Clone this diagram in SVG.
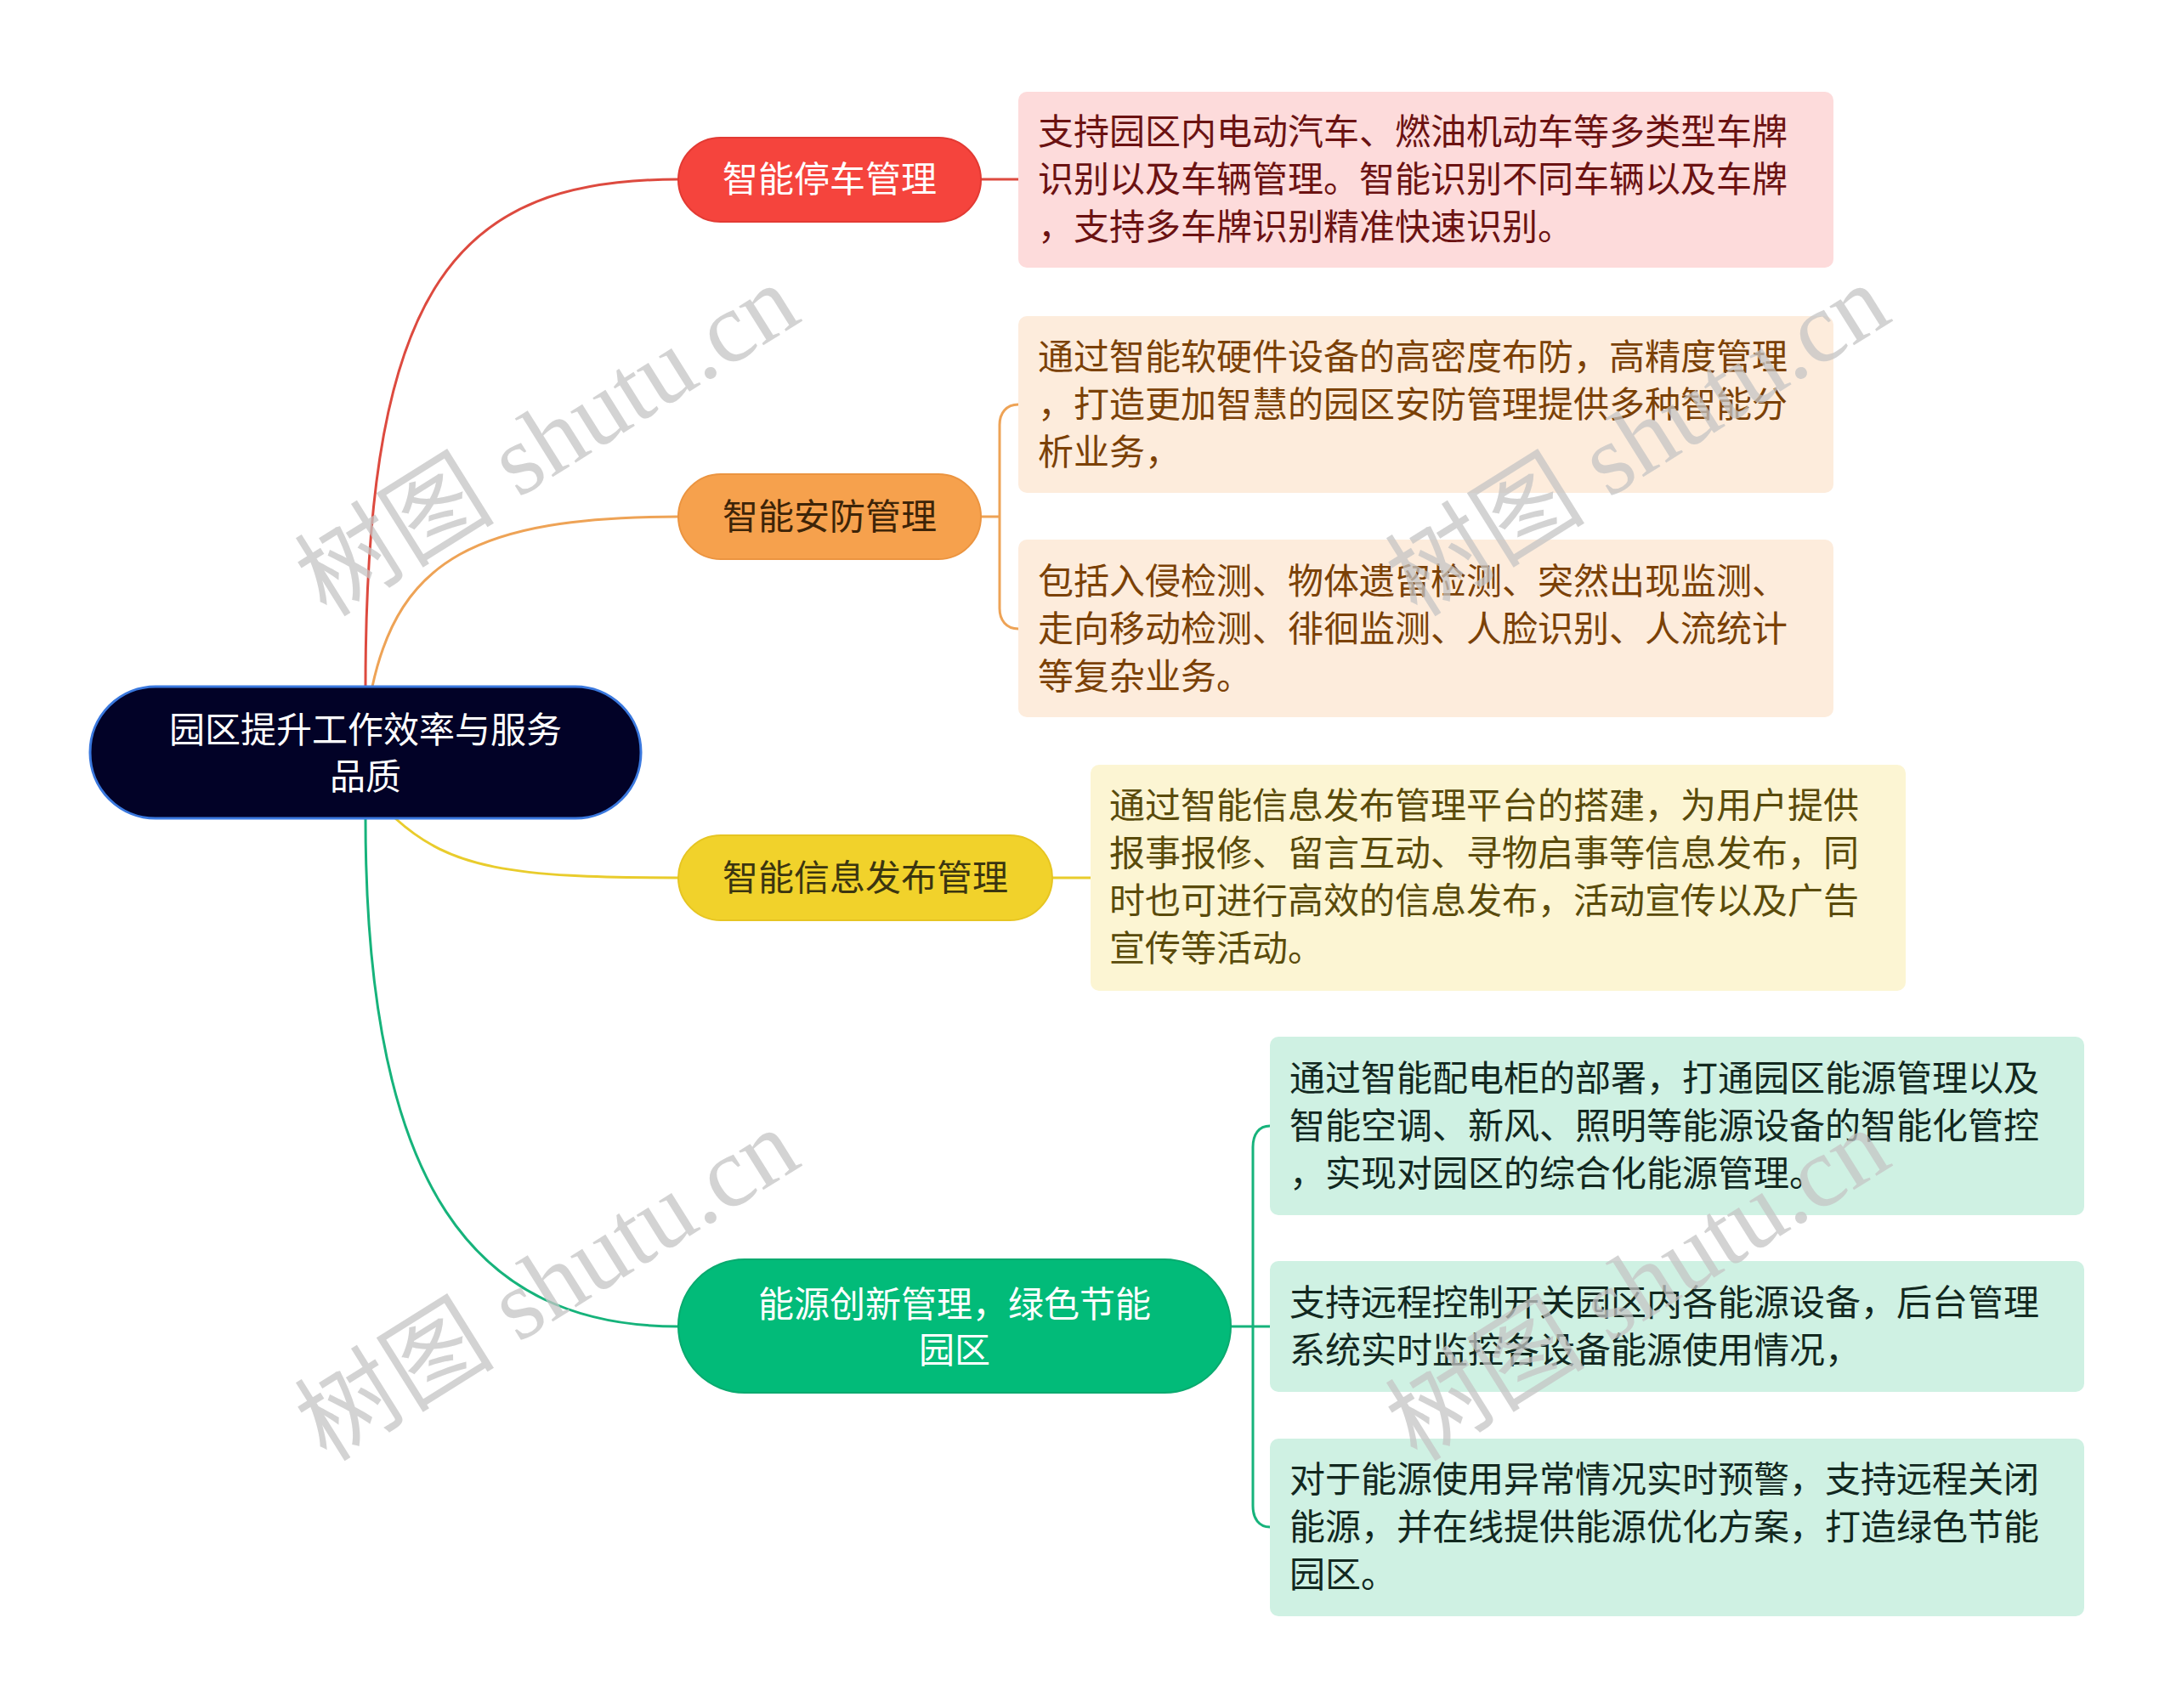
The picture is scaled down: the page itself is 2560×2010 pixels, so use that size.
<svg xmlns="http://www.w3.org/2000/svg" width="2560" height="2010" viewBox="0 0 2560 2010">
<style>
text{font-family:"Noto Sans CJK SC","Noto Sans",sans-serif;font-size:42px}
.c{text-anchor:middle}
.w{fill:#ffffff}
.con{fill:none;stroke-width:3;stroke-linecap:round}
.wm{font-family:"Liberation Serif","Noto Sans CJK SC",serif;font-size:118px;fill:#c4c4c4;fill-opacity:0.75;text-anchor:middle}
</style>
<rect width="2560" height="2010" fill="#ffffff"/>
<g id="connectors">
<path class="con" stroke="#dd4a3f" d="M430,808 C430,330 540,211 798,211"/>
<path class="con" stroke="#eea356" d="M438,808 C470,660 560,608 798,608"/>
<path class="con" stroke="#e9cc2c" d="M465,963 C530,1022 600,1033 798,1033"/>
<path class="con" stroke="#16b37b" d="M430,963 C430,1400 560,1561 798,1561"/>
<path class="con" stroke="#dd4a3f" d="M1154,211 H1198"/>
<path class="con" stroke="#eea356" d="M1154,608 H1176 M1198,476 C1184,476 1176,486 1176,500 V716 C1176,730 1184,740 1198,740"/>
<path class="con" stroke="#e9cc2c" d="M1238,1033 H1283"/>
<path class="con" stroke="#16b37b" d="M1448,1561 H1494 M1494,1325 C1481,1325 1474,1335 1474,1350 V1772 C1474,1787 1481,1797 1494,1797"/>
</g>
<g id="root">
<rect x="106" y="808" width="648" height="155" rx="77" fill="#020227" stroke="#3a78de" stroke-width="3"/>
<text class="c w" x="430" y="874">园区提升工作效率与服务</text>
<text class="c w" x="430" y="929">品质</text>
</g>
<g id="n1">
<rect x="798" y="162" width="356" height="99" rx="49.5" fill="#f5443d" stroke="#e23a33" stroke-width="2"/>
<text class="c w" x="976" y="226">智能停车管理</text>
</g>
<g id="n2">
<rect x="798" y="558" width="356" height="100" rx="50" fill="#f6a14d" stroke="#eb9440" stroke-width="2"/>
<text class="c" x="976" y="623" fill="#3d2408">智能安防管理</text>
</g>
<g id="n3">
<rect x="798" y="983" width="440" height="100" rx="50" fill="#f1d22b" stroke="#e6c522" stroke-width="2"/>
<text class="c" x="1018" y="1048" fill="#3b3510">智能信息发布管理</text>
</g>
<g id="n4">
<rect x="798" y="1482" width="650" height="157" rx="78" fill="#02bb79" stroke="#0aaa6f" stroke-width="2"/>
<text class="c w" x="1123" y="1550">能源创新管理，绿色节能</text>
<text class="c w" x="1123" y="1604">园区</text>
</g>
<g id="l1">
<rect x="1198" y="108" width="959" height="207" rx="10" fill="#fddbdb"/>
<g fill="#6b1212">
<text x="1221" y="170">支持园区内电动汽车、燃油机动车等多类型车牌</text>
<text x="1221" y="226">识别以及车辆管理。智能识别不同车辆以及车牌</text>
<text x="1221" y="282">，支持多车牌识别精准快速识别。</text>
</g>
</g>
<g id="l2a">
<rect x="1198" y="372" width="959" height="208" rx="10" fill="#fdecdc"/>
<g fill="#7b4106">
<text x="1221" y="435">通过智能软硬件设备的高密度布防，高精度管理</text>
<text x="1221" y="491">，打造更加智慧的园区安防管理提供多种智能分</text>
<text x="1221" y="547">析业务，</text>
</g>
</g>
<g id="l2b">
<rect x="1198" y="635" width="959" height="209" rx="10" fill="#fdecdc"/>
<g fill="#7b4106">
<text x="1221" y="699">包括入侵检测、物体遗留检测、突然出现监测、</text>
<text x="1221" y="755">走向移动检测、徘徊监测、人脸识别、人流统计</text>
<text x="1221" y="811">等复杂业务。</text>
</g>
</g>
<g id="l3">
<rect x="1283" y="900" width="959" height="266" rx="10" fill="#fcf5d3"/>
<g fill="#5a4b0b">
<text x="1305" y="963">通过智能信息发布管理平台的搭建，为用户提供</text>
<text x="1305" y="1019">报事报修、留言互动、寻物启事等信息发布，同</text>
<text x="1305" y="1075">时也可进行高效的信息发布，活动宣传以及广告</text>
<text x="1305" y="1131">宣传等活动。</text>
</g>
</g>
<g id="l4a">
<rect x="1494" y="1220" width="958" height="210" rx="10" fill="#cff1e3"/>
<g fill="#12281f">
<text x="1517" y="1284">通过智能配电柜的部署，打通园区能源管理以及</text>
<text x="1517" y="1340">智能空调、新风、照明等能源设备的智能化管控</text>
<text x="1517" y="1396">，实现对园区的综合化能源管理。</text>
</g>
</g>
<g id="l4b">
<rect x="1494" y="1484" width="958" height="154" rx="10" fill="#cff1e3"/>
<g fill="#12281f">
<text x="1517" y="1548">支持远程控制开关园区内各能源设备，后台管理</text>
<text x="1517" y="1604">系统实时监控各设备能源使用情况，</text>
</g>
</g>
<g id="l4c">
<rect x="1494" y="1693" width="958" height="209" rx="10" fill="#cff1e3"/>
<g fill="#12281f">
<text x="1517" y="1756">对于能源使用异常情况实时预警，支持远程关闭</text>
<text x="1517" y="1812">能源，并在线提供能源优化方案，打造绿色节能</text>
<text x="1517" y="1868">园区。</text>
</g>
</g>
<g id="watermark">
<text class="wm" transform="translate(665,552) rotate(-32)">树图 shutu.cn</text>
<text class="wm" transform="translate(1948,552) rotate(-32)">树图 shutu.cn</text>
<text class="wm" transform="translate(665,1546) rotate(-32)">树图 shutu.cn</text>
<text class="wm" transform="translate(1948,1546) rotate(-32)">树图 shutu.cn</text>
</g>
</svg>
